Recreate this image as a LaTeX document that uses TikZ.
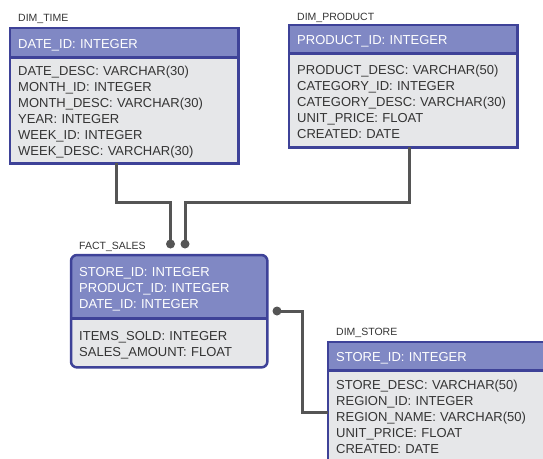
\documentclass[tikz,border=0pt]{standalone}
\usepackage{fontspec}
\setmainfont{Liberation Sans}
\usetikzlibrary{backgrounds}
\definecolor{hdrfill}{RGB}{128,136,196}
\definecolor{bordblue}{RGB}{62,66,152}
\definecolor{bodyfill}{RGB}{230,231,233}
\definecolor{txtgray}{RGB}{52,52,52}
\definecolor{conngray}{RGB}{85,85,85}
\tikzset{
  tab/.style={anchor=north west, inner xsep=8pt, inner ysep=0pt, align=left,
    font=\fontsize{13}{16}\selectfont, execute at begin node={\rule{0pt}{13.5pt}}},
  hdr/.style={tab, text=white},
  bod/.style={tab, text=txtgray},
  lbl/.style={anchor=base west, font=\fontsize{10.5}{12}\selectfont, text=txtgray, inner sep=0pt},
  border/.style={draw=bordblue, line width=2.5pt},
  conn/.style={draw=conngray, line width=3pt},
}
\begin{document}
\begin{tikzpicture}[x=1pt,y=-1pt]
\useasboundingbox (0,0) rectangle (543,458);
\clip (0,0) rectangle (543,458);
% DIM_TIME
\node[lbl] (timeL) at (18,21) {DIM\_TIME};
\node[hdr, fill=hdrfill, text width=212pt, minimum height=29pt] (timeH) at (10,28) {DATE\_ID: INTEGER};
\node[bod, fill=bodyfill, text width=212pt, minimum height=106pt] (timeB) at (10,57)
 {DATE\_DESC: VARCHAR(30)\\MONTH\_ID: INTEGER\\MONTH\_DESC: VARCHAR(30)\\YEAR: INTEGER\\WEEK\_ID: INTEGER\\WEEK\_DESC: VARCHAR(30)};
\draw[border] (timeH.north west) rectangle (timeB.south east);
\draw[border] (timeH.south west) -- (timeH.south east);
% DIM_PRODUCT
\node[lbl] (prodL) at (297,20) {DIM\_PRODUCT};
\node[hdr, fill=hdrfill, text width=212pt, minimum height=28pt] (prodH) at (289,25) {PRODUCT\_ID: INTEGER};
\node[bod, fill=bodyfill, text width=212pt, minimum height=94pt] (prodB) at (289,53)
 {PRODUCT\_DESC: VARCHAR(50)\\CATEGORY\_ID: INTEGER\\CATEGORY\_DESC: VARCHAR(30)\\UNIT\_PRICE: FLOAT\\CREATED: DATE};
\draw[border] (prodH.north west) rectangle (prodB.south east);
\draw[border] (prodH.south west) -- (prodH.south east);
% FACT_SALES
\node[lbl] (factL) at (79,249) {FACT\_SALES};
\node[hdr, text width=180pt, minimum height=63pt] (factH) at (71,255)
 {STORE\_ID: INTEGER\\PRODUCT\_ID: INTEGER\\DATE\_ID: INTEGER};
\node[bod, text width=180pt, minimum height=49pt] (factB) at (71,318)
 {ITEMS\_SOLD: INTEGER\\SALES\_AMOUNT: FLOAT};
\begin{scope}[on background layer]
  \fill[bodyfill, rounded corners=6pt] (factH.north west) rectangle (factB.south east);
  \begin{scope}
    \clip[rounded corners=6pt] (factH.north west) rectangle (factB.south east);
    \fill[hdrfill] (factH.north west) rectangle (factH.south east);
  \end{scope}
\end{scope}
\draw[border, rounded corners=6pt] (factH.north west) rectangle (factB.south east);
\draw[border] (factH.south west) -- (factH.south east);
% DIM_STORE
\node[lbl] (storeL) at (336,335) {DIM\_STORE};
\node[hdr, fill=hdrfill, text width=214pt, minimum height=28pt] (storeH) at (328,342) {STORE\_ID: INTEGER};
\node[bod, fill=bodyfill, text width=214pt, minimum height=90pt] (storeB) at (328,370)
 {STORE\_DESC: VARCHAR(50)\\REGION\_ID: INTEGER\\REGION\_NAME: VARCHAR(50)\\UNIT\_PRICE: FLOAT\\CREATED: DATE};
\draw[border] (storeH.north west) rectangle (storeB.south east);
\draw[border] (storeH.south west) -- (storeH.south east);
% connectors
\coordinate (tdot) at (170.5,244);
\coordinate (pdot) at (185,244);
\coordinate (sdot) at (277,311);
\draw[conn] ([xshift=106pt]timeB.south west) -- ++(0,39) -| (tdot);
\draw[conn] ([xshift=120pt]prodB.south west) -- ++(0,55) -| (pdot);
\draw[conn] (sdot) -- ++(25,0) |- ([yshift=3pt]storeB.west);
\fill[conngray] (tdot) circle (4.5pt);
\fill[conngray] (pdot) circle (4.5pt);
\fill[conngray] (sdot) circle (4.5pt);
\end{tikzpicture}
\end{document}
